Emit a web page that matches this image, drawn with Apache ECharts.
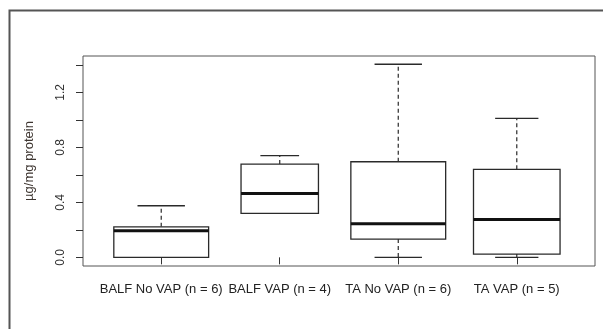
<!DOCTYPE html>
<html>
<head>
<meta charset="utf-8">
<script src="https://cdn.jsdelivr.net/npm/echarts@6/dist/echarts.min.js"></script>
<style>
  html, body { margin: 0; padding: 0; background: #fff; }
  #chart { width: 603px; height: 329px; }
</style>
</head>
<body>
<div id="chart"></div>
<script>
// groups and their sizes
const categories = ['BALF No VAP (n = 6)', 'BALF VAP (n = 4)', 'TA No VAP (n = 6)', 'TA VAP (n = 5)']
const groupN = [6, 4, 6, 5]

// five-number summaries (µg/mg protein)
const whiskerLow = [0.0, 0.32, 0.0, 0.0]
const q1 = [0.0, 0.32, 0.133, 0.024]
const median = [0.193, 0.465, 0.244, 0.276]
const q3 = [0.222, 0.678, 0.695, 0.640]
const whiskerHigh = [0.375, 0.739, 1.404, 1.011]

const yTicks = [0, 0.2, 0.4, 0.6, 0.8, 1.0, 1.2, 1.4]
const yLabels = [0, 0.4, 0.8, 1.2]

const maxN = Math.max(...groupN)
const boxData = categories.map((c, i) => [
  i + 1, whiskerLow[i], q1[i], median[i], q3[i], whiskerHigh[i],
  0.8 * Math.sqrt(groupN[i] / maxN) // varwidth like R
])

const lineColor = '#2a2a2a'

function renderBox(params, api) {
  const x = api.value(0)
  const w = api.size([api.value(6), 0])[0]
  const lo = api.coord([x, api.value(1)])
  const b1 = api.coord([x, api.value(2)])
  const md = api.coord([x, api.value(3)])
  const b3 = api.coord([x, api.value(4)])
  const hi = api.coord([x, api.value(5)])
  const cx = lo[0]
  const half = w / 2
  const cap = w / 4
  const dash = { stroke: lineColor, lineWidth: 1.2, lineDash: [4, 3], fill: null }
  const solid = { stroke: lineColor, lineWidth: 1.3, fill: null }
  const children = []
  if (hi[1] < b3[1]) {
    children.push({ type: 'line', shape: { x1: cx, y1: b3[1], x2: cx, y2: hi[1] }, style: dash })
  }
  if (lo[1] > b1[1]) {
    children.push({ type: 'line', shape: { x1: cx, y1: b1[1], x2: cx, y2: lo[1] }, style: dash })
  }
  children.push({ type: 'line', shape: { x1: cx - cap, y1: hi[1], x2: cx + cap, y2: hi[1] }, style: solid })
  children.push({ type: 'line', shape: { x1: cx - cap, y1: lo[1], x2: cx + cap, y2: lo[1] }, style: solid })
  children.push({
    type: 'rect',
    shape: { x: cx - half, y: b3[1], width: w, height: b1[1] - b3[1] },
    style: { stroke: lineColor, lineWidth: 1.3, fill: '#fff' },
    z2: 1
  })
  children.push({
    type: 'line',
    shape: { x1: cx - half, y1: md[1], x2: cx + half, y2: md[1] },
    style: { stroke: '#111', lineWidth: 3 },
    z2: 2
  })
  return { type: 'group', children }
}

const myChart = echarts.init(document.getElementById('chart'))

const option = {
  animation: false,
  backgroundColor: '#fff',
  textStyle: { fontFamily: 'Liberation Sans, Arial, sans-serif' },
  graphic: [{
    type: 'rect',
    shape: { x: 9.5, y: 10.5, width: 700, height: 400 },
    style: { stroke: '#555', lineWidth: 2, fill: null },
    silent: true
  }],
  grid: {
    left: 83, top: 56, width: 512, height: 210,
    show: true, borderColor: '#555', borderWidth: 1, backgroundColor: 'transparent'
  },
  xAxis: {
    type: 'value',
    min: 0.34,
    max: 4.66,
    axisLine: { show: false },
    splitLine: { show: false },
    axisTick: { show: true, length: 7, customValues: [1, 2, 3, 4], lineStyle: { color: '#333' } },
    axisLabel: {
      customValues: [1, 2, 3, 4],
      formatter: (v) => categories[Math.round(v) - 1] || '',
      fontSize: 13,
      color: '#222',
      margin: 17
    }
  },
  yAxis: {
    type: 'value',
    min: -0.063,
    max: 1.464,
    name: 'µg/mg protein',
    nameLocation: 'middle',
    nameRotate: 90,
    nameGap: 47,
    nameTextStyle: { fontSize: 13, color: '#3d3530' },
    axisLine: { show: false },
    splitLine: { show: false },
    axisTick: { show: true, length: 7, customValues: yTicks, lineStyle: { color: '#333' } },
    axisLabel: {
      customValues: yLabels,
      rotate: 90,
      formatter: (v) => v.toFixed(1),
      fontSize: 12,
      color: '#333',
      margin: 16
    }
  },
  series: [{
    type: 'custom',
    renderItem: renderBox,
    encode: { x: 0, y: [1, 5] },
    data: boxData
  }]
}

myChart.setOption(option)
</script>
</body>
</html>
